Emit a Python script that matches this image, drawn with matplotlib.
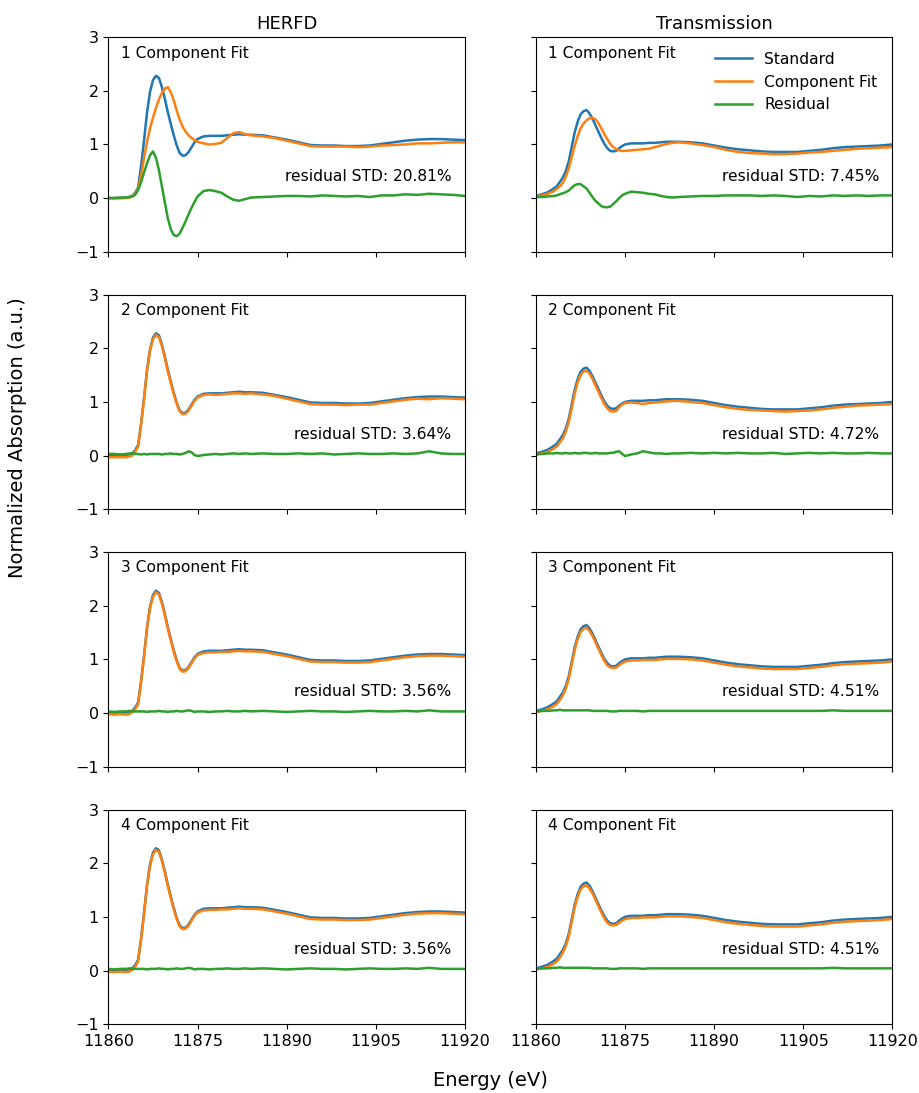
import numpy as np
import matplotlib
matplotlib.use("Agg")
import matplotlib.pyplot as plt

# energy grid (eV)
energy = [11860, 11861, 11862, 11863, 11863.5, 11864, 11864.5, 11865, 11865.5, 11866,
          11866.5, 11867, 11867.5, 11868, 11868.5, 11869, 11869.5, 11870, 11870.5, 11871,
          11871.5, 11872, 11872.5, 11873, 11873.5, 11874, 11874.5, 11875, 11876, 11877,
          11878, 11879, 11880, 11881, 11882, 11883, 11884, 11886, 11888, 11890,
          11892, 11894, 11896, 11898, 11900, 11902, 11904, 11906, 11908, 11910,
          11912, 11914, 11916, 11918, 11920]

# HERFD
herfd_std = [0.0, 0.0, 0.0, 0.01, 0.02, 0.04, 0.1, 0.2, 0.6, 1.08,
             1.6, 1.98, 2.2, 2.28, 2.24, 2.07, 1.85, 1.6, 1.38, 1.17,
             0.98, 0.84, 0.79, 0.8, 0.86, 0.95, 1.04, 1.1, 1.15, 1.16,
             1.16, 1.16, 1.17, 1.18, 1.19, 1.18, 1.18, 1.17, 1.13, 1.09,
             1.04, 0.99, 0.98, 0.98, 0.97, 0.97, 0.98, 1.01, 1.04, 1.07,
             1.09, 1.1, 1.1, 1.09, 1.08]
herfd_fit_1 = [0.0, 0.0, 0.0, 0.0, 0.01, 0.03, 0.08, 0.18, 0.42, 0.75,
               1.05, 1.3, 1.5, 1.68, 1.84, 1.96, 2.04, 2.07, 1.97, 1.82,
               1.63, 1.46, 1.33, 1.24, 1.17, 1.12, 1.08, 1.05, 1.02, 1.0,
               1.01, 1.03, 1.12, 1.21, 1.23, 1.19, 1.17, 1.15, 1.12, 1.07,
               1.02, 0.97, 0.96, 0.96, 0.96, 0.95, 0.96, 0.98, 0.99, 1.0,
               1.02, 1.02, 1.03, 1.04, 1.04]
herfd_res_1 = [0.0, 0.0, 0.01, 0.01, 0.02, 0.03, 0.06, 0.15, 0.3, 0.48,
               0.65, 0.8, 0.87, 0.75, 0.52, 0.22, -0.08, -0.38, -0.58, -0.69,
               -0.71, -0.66, -0.55, -0.43, -0.3, -0.18, -0.07, 0.03, 0.13, 0.15,
               0.13, 0.1, 0.03, -0.03, -0.05, -0.02, 0.01, 0.02, 0.03, 0.04,
               0.04, 0.03, 0.05, 0.04, 0.03, 0.04, 0.02, 0.05, 0.05, 0.07,
               0.06, 0.08, 0.07, 0.06, 0.04]
herfd_fit_2 = [-0.03, -0.03, -0.03, -0.03, -0.02, 0.0, 0.07, 0.17, 0.58, 1.05,
               1.58, 1.95, 2.17, 2.25, 2.21, 2.04, 1.82, 1.57, 1.35, 1.14,
               0.96, 0.82, 0.77, 0.78, 0.84, 0.93, 1.02, 1.08, 1.13, 1.14,
               1.13, 1.14, 1.15, 1.16, 1.16, 1.15, 1.16, 1.14, 1.11, 1.06,
               1.01, 0.96, 0.95, 0.95, 0.94, 0.95, 0.95, 0.98, 1.01, 1.04,
               1.06, 1.05, 1.07, 1.06, 1.05]
herfd_res_2 = [0.03, 0.03, 0.02, 0.03, 0.04, 0.04, 0.03, 0.03, 0.02, 0.03,
               0.02, 0.03, 0.03, 0.03, 0.03, 0.02, 0.03, 0.03, 0.04, 0.03,
               0.03, 0.02, 0.03, 0.05, 0.08, 0.06, 0.01, -0.01, 0.01, 0.02,
               0.03, 0.02, 0.03, 0.04, 0.03, 0.04, 0.03, 0.04, 0.03, 0.03,
               0.04, 0.03, 0.04, 0.02, 0.03, 0.04, 0.03, 0.03, 0.04, 0.03,
               0.04, 0.08, 0.04, 0.03, 0.03]
herfd_fit_3 = [-0.02, -0.03, -0.02, -0.03, -0.02, 0.01, 0.07, 0.17, 0.57, 1.05,
               1.58, 1.95, 2.17, 2.25, 2.21, 2.04, 1.82, 1.57, 1.35, 1.14,
               0.96, 0.82, 0.77, 0.78, 0.84, 0.93, 1.02, 1.08, 1.12, 1.13,
               1.13, 1.14, 1.14, 1.15, 1.16, 1.15, 1.15, 1.14, 1.1, 1.06,
               1.01, 0.96, 0.95, 0.95, 0.94, 0.94, 0.95, 0.98, 1.01, 1.04,
               1.06, 1.07, 1.07, 1.06, 1.05]
herfd_res_3 = [0.03, 0.02, 0.03, 0.03, 0.04, 0.03, 0.03, 0.03, 0.03, 0.03,
               0.02, 0.03, 0.03, 0.03, 0.04, 0.03, 0.03, 0.02, 0.03, 0.03,
               0.04, 0.03, 0.03, 0.04, 0.05, 0.04, 0.02, 0.03, 0.03, 0.02,
               0.03, 0.03, 0.04, 0.03, 0.03, 0.04, 0.03, 0.04, 0.03, 0.02,
               0.03, 0.04, 0.03, 0.03, 0.02, 0.03, 0.04, 0.03, 0.03, 0.04,
               0.03, 0.05, 0.03, 0.03, 0.03]

# Transmission
trans_std = [0.04, 0.07, 0.11, 0.18, 0.22, 0.3, 0.38, 0.5, 0.68, 0.95,
             1.22, 1.42, 1.56, 1.62, 1.64, 1.58, 1.48, 1.36, 1.24, 1.12,
             1.01, 0.93, 0.88, 0.87, 0.88, 0.93, 0.97, 1.0, 1.02, 1.02,
             1.02, 1.03, 1.03, 1.04, 1.05, 1.05, 1.05, 1.04, 1.02, 0.98,
             0.94, 0.91, 0.89, 0.87, 0.86, 0.86, 0.86, 0.88, 0.9, 0.93,
             0.95, 0.96, 0.97, 0.98, 1.0]
trans_fit_1 = [0.03, 0.05, 0.08, 0.13, 0.17, 0.22, 0.28, 0.4, 0.55, 0.76,
               0.97, 1.15, 1.3, 1.39, 1.45, 1.49, 1.5, 1.47, 1.4, 1.3,
               1.19, 1.1, 1.01, 0.95, 0.91, 0.89, 0.88, 0.88, 0.89, 0.9,
               0.91, 0.92, 0.95, 0.98, 1.01, 1.03, 1.04, 1.02, 0.99, 0.95,
               0.9, 0.86, 0.84, 0.83, 0.82, 0.82, 0.83, 0.85, 0.86, 0.88,
               0.9, 0.92, 0.93, 0.94, 0.95]
trans_res_1 = [0.02, 0.02, 0.03, 0.04, 0.05, 0.07, 0.09, 0.11, 0.14, 0.19,
               0.24, 0.26, 0.26, 0.22, 0.18, 0.1, 0.02, -0.05, -0.1, -0.15,
               -0.17, -0.17, -0.16, -0.11, -0.06, 0.0, 0.05, 0.08, 0.12, 0.11,
               0.1, 0.08, 0.07, 0.04, 0.02, 0.01, 0.02, 0.03, 0.04, 0.04,
               0.05, 0.05, 0.05, 0.04, 0.05, 0.04, 0.02, 0.04, 0.03, 0.05,
               0.04, 0.05, 0.04, 0.05, 0.05]
trans_fit_2 = [0.02, 0.04, 0.07, 0.13, 0.17, 0.24, 0.32, 0.44, 0.62, 0.88,
               1.15, 1.36, 1.5, 1.57, 1.58, 1.53, 1.43, 1.31, 1.19, 1.07,
               0.96, 0.88, 0.83, 0.82, 0.83, 0.9, 0.95, 0.98, 0.99, 0.98,
               0.96, 0.98, 0.99, 1.0, 1.01, 1.02, 1.02, 1.0, 0.98, 0.94,
               0.9, 0.87, 0.85, 0.84, 0.83, 0.82, 0.83, 0.84, 0.86, 0.89,
               0.91, 0.93, 0.94, 0.95, 0.96]
trans_res_2 = [0.02, 0.03, 0.04, 0.04, 0.05, 0.04, 0.04, 0.05, 0.04, 0.04,
               0.05, 0.04, 0.04, 0.05, 0.05, 0.04, 0.04, 0.05, 0.04, 0.04,
               0.04, 0.04, 0.05, 0.05, 0.07, 0.08, 0.03, -0.01, 0.02, 0.04,
               0.08, 0.06, 0.04, 0.04, 0.03, 0.04, 0.04, 0.05, 0.04, 0.05,
               0.04, 0.05, 0.04, 0.04, 0.05, 0.03, 0.04, 0.05, 0.04, 0.05,
               0.04, 0.04, 0.05, 0.04, 0.04]
trans_fit_3 = [0.02, 0.04, 0.07, 0.13, 0.17, 0.24, 0.33, 0.45, 0.63, 0.9,
               1.17, 1.37, 1.51, 1.57, 1.59, 1.53, 1.44, 1.32, 1.2, 1.08,
               0.97, 0.89, 0.85, 0.84, 0.85, 0.89, 0.93, 0.96, 0.98, 0.98,
               0.99, 0.99, 0.99, 1.0, 1.01, 1.01, 1.01, 1.0, 0.98, 0.94,
               0.9, 0.87, 0.85, 0.83, 0.82, 0.82, 0.82, 0.84, 0.86, 0.89,
               0.91, 0.92, 0.93, 0.94, 0.96]
trans_res_3 = [0.03, 0.04, 0.04, 0.05, 0.05, 0.06, 0.05, 0.05, 0.05, 0.05,
               0.05, 0.05, 0.05, 0.05, 0.05, 0.05, 0.04, 0.04, 0.04, 0.04,
               0.04, 0.04, 0.03, 0.03, 0.03, 0.04, 0.04, 0.04, 0.04, 0.04,
               0.03, 0.04, 0.04, 0.04, 0.04, 0.04, 0.04, 0.04, 0.04, 0.04,
               0.04, 0.04, 0.04, 0.04, 0.04, 0.04, 0.04, 0.04, 0.04, 0.05,
               0.04, 0.04, 0.04, 0.04, 0.04]

herfd_fits = [herfd_fit_1, herfd_fit_2, herfd_fit_3, herfd_fit_3]
herfd_res = [herfd_res_1, herfd_res_2, herfd_res_3, herfd_res_3]
trans_fits = [trans_fit_1, trans_fit_2, trans_fit_3, trans_fit_3]
trans_res = [trans_res_1, trans_res_2, trans_res_3, trans_res_3]
herfd_std_pct = [20.81, 3.64, 3.56, 3.56]
trans_std_pct = [7.45, 4.72, 4.51, 4.51]
col_titles = ["HERFD", "Transmission"]
xticks = [11860, 11875, 11890, 11905, 11920]

fig, axes = plt.subplots(4, 2, figsize=(9.19, 10.93), dpi=100, sharex=True, sharey=True)
fig.subplots_adjust(left=0.118, right=0.971, bottom=0.063, top=0.966, wspace=0.2, hspace=0.2)

for row in range(4):
    for col in range(2):
        ax = axes[row, col]
        if col == 0:
            std, fit, res, pct = herfd_std, herfd_fits[row], herfd_res[row], herfd_std_pct[row]
        else:
            std, fit, res, pct = trans_std, trans_fits[row], trans_res[row], trans_std_pct[row]
        ax.plot(energy, std, color="C0", lw=1.8, label="Standard")
        ax.plot(energy, fit, color="C1", lw=1.8, label="Component Fit")
        ax.plot(energy, res, color="C2", lw=1.8, label="Residual")
        ax.text(0.034, 0.926, "%d Component Fit" % (row + 1), transform=ax.transAxes,
                ha="left", va="center", fontsize=11.2)
        ax.text(0.963, 0.35, "residual STD: %.2f%%" % pct, transform=ax.transAxes,
                ha="right", va="center", fontsize=11.2)
        ax.set_xlim(11860, 11920)
        ax.set_ylim(-1, 3)
        ax.set_xticks(xticks)
        ax.set_yticks([-1, 0, 1, 2, 3])
        ax.tick_params(labelsize=11.5)
        if row == 0:
            ax.set_title(col_titles[col], fontsize=13)

axes[0, 1].legend(loc="upper right", frameon=False, fontsize=11.2,
                  borderaxespad=0.55, labelspacing=0.5, handlelength=2.4)

fig.text(0.534, 0.011, "Energy (eV)", ha="center", va="center", fontsize=14)
fig.text(0.019, 0.60, "Normalized Absorption (a.u.)", ha="center", va="center",
         rotation=90, fontsize=14)

fig.savefig("out.png", dpi=100)
